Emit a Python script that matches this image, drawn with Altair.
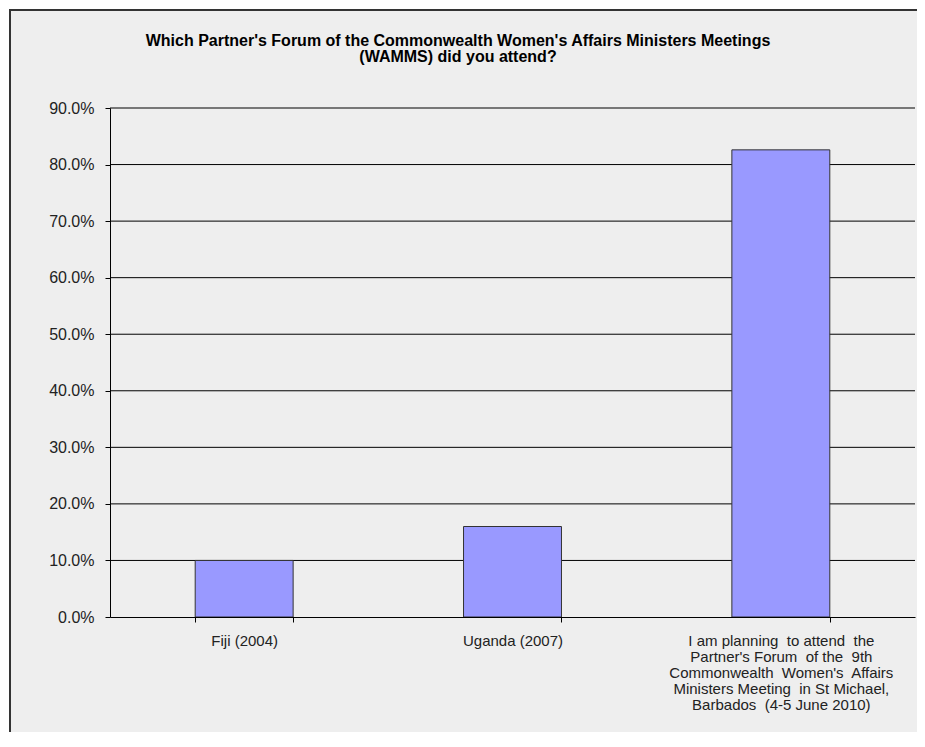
import altair as alt
import pandas as pd

NB = "\u00a0"
categories = [
    "Fiji (2004)",
    "Uganda (2007)",
    f"I am planning{NB} to attend{NB} the|Partner's Forum{NB} of the{NB} 9th|Commonwealth{NB} Women's{NB} Affairs|Ministers Meeting{NB} in St Michael,|Barbados{NB} (4-5 June 2010)",
]
values = [0.100, 0.160, 0.826]
y_ticks = [0.0, 0.1, 0.2, 0.3, 0.4, 0.5, 0.6, 0.7, 0.8, 0.9]
title_lines = [
    "Which Partner's Forum of the Commonwealth Women's Affairs Ministers Meetings",
    "(WAMMS) did you attend?",
]

df = pd.DataFrame({"cat": categories, "val": values})
grid_df = pd.DataFrame({"t": y_ticks[1:]})
frame_df = pd.DataFrame({"a": [0]})

W, H = 805, 509
FONT = "Liberation Sans"

y_scale = alt.Scale(domain=[0, 0.9], nice=False, zero=True)
y_axis = alt.Axis(
    title=None,
    values=y_ticks,
    format=".1%",
    labelFont=FONT,
    labelFontSize=16,
    labelColor="#222222",
    labelPadding=11,
    tickSize=5,
    tickColor="black",
    domainColor="black",
    grid=False,
    zindex=2,
)

frame = alt.Chart(frame_df).mark_rect(
    fill="#eeeeee", stroke="#333333", strokeWidth=2
).encode(
    x=alt.value(-100), x2=alt.value(W + 40), y=alt.value(-98), y2=alt.value(H + 160)
)

title = alt.Chart(frame_df).mark_text(
    text=title_lines,
    font=FONT,
    fontSize=16,
    fontWeight="bold",
    color="black",
    align="center",
    baseline="top",
    lineHeight=16,
).encode(x=alt.value(348), y=alt.value(-75))

grid = alt.Chart(grid_df).mark_rule(color="black", strokeWidth=1).encode(
    y=alt.Y("t:Q", scale=y_scale, axis=y_axis)
)

bars = alt.Chart(df).mark_bar(
    color="#9999ff", stroke="#333333", strokeWidth=1
).encode(
    x=alt.X(
        "cat:N",
        sort=None,
        scale=alt.Scale(paddingInner=0.635, paddingOuter=0.3175),
        axis=alt.Axis(
            title=None,
            labelAngle=0,
            labelExpr="split(datum.label, '|')",
            labelFont=FONT,
            labelFontSize=15,
            labelColor="#222222",
            labelLineHeight=16,
            labelPadding=11,
            labelLimit=400,
            tickBand="extent",
            tickSize=5,
            tickColor="black",
            domainColor="black",
            grid=False,
            zindex=2,
        ),
    ),
    y=alt.Y("val:Q", scale=y_scale, axis=y_axis),
)

chart = alt.layer(frame, title, grid, bars).properties(
    width=W,
    height=H,
    padding={"left": 102, "top": 100, "right": 2, "bottom": 115},
    autosize=alt.AutoSizeParams(type="none"),
    background="white",
).configure_view(stroke=None)

chart.save("out.html", embed_options={"renderer": "svg", "actions": False})
